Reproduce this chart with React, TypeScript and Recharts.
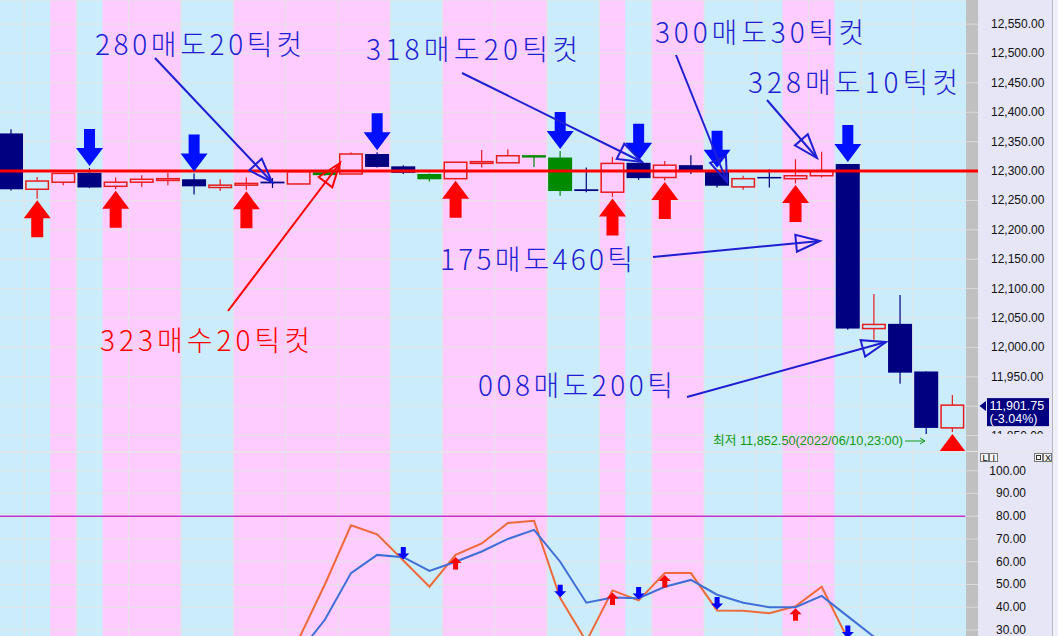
import React from 'react'
import { ComposedChart, Bar, Line, XAxis, YAxis, CartesianGrid, ReferenceArea, ReferenceLine } from 'recharts'

// 봉 데이터 (시가/고가/저가/종가)
const opens = [12364, 12269, 12281, 12297, 12274, 12281, 12284, 12286, 12272, 12276, 12282, 12278, 12298, 12295, 12329, 12308, 12295, 12287, 12313, 12314, 12327, 12323, 12269, 12264, 12314, 12289, 12310, 12300, 12273, 12290, 12287, 12292, 12312, 12032, 12040, 11959, 11863]
const highs = [12371, 12290, 12296, 12305, 12289, 12293, 12297, 12296, 12286, 12289, 12288, 12299, 12300, 12332, 12332, 12310, 12296, 12315, 12336, 12337, 12327, 12334, 12306, 12324, 12314, 12317, 12327, 12302, 12292, 12303, 12320, 12333, 12312, 12091, 12089, 11959, 11919]
const lows = [12267, 12253, 12276, 12271, 12269, 12273, 12276, 12260, 12266, 12268, 12271, 12277, 12292, 12295, 12306, 12295, 12282, 12286, 12306, 12314, 12307, 12258, 12264, 12256, 12285, 12284, 12295, 12272, 12268, 12272, 12279, 12289, 12030, 12013, 11938, 11852.5, 11856]
const closes = [12269, 12283, 12296, 12272, 12281, 12286, 12287, 12274, 12276, 12279, 12279, 12299, 12293, 12329, 12307, 12297, 12286, 12315, 12316, 12326, 12323, 12266, 12266, 12313, 12288, 12310, 12300, 12275, 12287, 12288, 12292, 12300, 12032, 12039, 11957, 11863, 11901.75]
// R 양봉, N 음봉, G 녹색봉
const kinds = ['N', 'R', 'R', 'N', 'R', 'R', 'R', 'N', 'R', 'R', 'N', 'R', 'G', 'R', 'N', 'N', 'G', 'R', 'R', 'R', 'G', 'G', 'N', 'R', 'N', 'R', 'N', 'N', 'R', 'N', 'R', 'R', 'N', 'R', 'N', 'N', 'R']
// 배경 색 (B 하늘색, P 분홍색)
const bands = ['B', 'B', 'P', 'B', 'P', 'P', 'P', 'B', 'B', 'P', 'P', 'P', 'P', 'P', 'P', 'B', 'B', 'P', 'P', 'P', 'P', 'B', 'B', 'P', 'B', 'P', 'P', 'B', 'B', 'B', 'P', 'P', 'B', 'B', 'B', 'B', 'B']
const sellSignals = [3, 7, 14, 21, 24, 27, 32]
const buySignals = [1, 4, 9, 17, 23, 25, 30]
const lowMarks = [36]
const lineLevel = 12300
const lastPrice = 11901.75
const lastChange = '(-3.04%)'

// 보조지표
const oscFast = [null, null, null, null, null, null, null, null, null, null, null, 26, 50, 76, 72, 60.5, 49, 63, 68, 77, 78, 44, 25, 47.4, 43, 55, 55, 38.6, 38.5, 37.4, 40.4, 49, 26, null, null, null, null]
const oscSlow = [null, null, null, null, null, null, null, null, null, null, null, 20, 34.5, 55, 63, 62, 56, 60, 64.5, 70, 74, 60, 42, 44.3, 44, 49, 52, 45.5, 42, 40, 40, 45, 36, 27, null, null, null]
const oscSellSignals = [15, 21, 24, 27, 32]
const oscBuySignals = [17, 23, 25, 30]
const oscLevel = 80

const priceTicks = [11850, 11900, 11950, 12000, 12050, 12100, 12150, 12200, 12250, 12300, 12350, 12400, 12450, 12500, 12550]
const oscTicks = [0, 10, 20, 30, 40, 50, 60, 70, 80, 90, 100]

const PINK = '#ffccff'
const SKY = '#cbecfb'
const GRID = '#e4e4e4'
const NAVY = '#000080'
const RED = '#e81c1c'
const BLUE_NOTE = '#1e1ed2'
const AXIS_BG = '#e6e6f7'

const rows = opens.map((open, i) => ({
	idx: i,
	open,
	high: highs[i],
	low: lows[i],
	close: closes[i],
	kind: kinds[i],
	sell: sellSignals.includes(i) ? highs[i] : null,
	buy: buySignals.includes(i) ? lows[i] : null,
	lowMark: lowMarks.includes(i) ? lows[i] : null,
	fast: oscFast[i],
	slow: oscSlow[i],
	oscSell: oscSellSignals.includes(i) ? oscFast[i] : null,
	oscBuy: oscBuySignals.includes(i) ? oscFast[i] : null,
}))

// 같은 색이 이어지는 구간
const bandRuns: { from: number; to: number; color: string }[] = []
bands.forEach((b, i) => {
	const last = bandRuns[bandRuns.length - 1]
	const color = b === 'P' ? PINK : SKY
	if (last && last.color === color) last.to = i
	else bandRuns.push({ from: i, to: i, color })
})
const gridCols = rows.filter((r) => r.idx % 2 === 1).map((r) => r.idx)

const fmt = (v: number) => v.toLocaleString('en-US', { minimumFractionDigits: 2, maximumFractionDigits: 2 })

const Candle = (props: any) => {
	const { x, y, width, height, payload } = props
	if (x == null || y == null) return <g />
	const { open, close, high, low, kind } = payload
	const color = kind === 'R' ? RED : kind === 'G' ? '#008a00' : NAVY
	const per = height / Math.max(high - low, 0.0001)
	const yOf = (v: number) => y + (high - v) * per
	const top = yOf(Math.max(open, close))
	const bot = Math.max(yOf(Math.min(open, close)), top + 1.5)
	const cx = x + width / 2
	if (kind === 'R') {
		return (
			<g>
				<line x1={cx} x2={cx} y1={y} y2={top} stroke={color} strokeWidth={1.2} />
				<line x1={cx} x2={cx} y1={bot} y2={y + height} stroke={color} strokeWidth={1.2} />
				<rect x={x + 0.75} y={top} width={width - 1.5} height={bot - top} fill='none' stroke={color} strokeWidth={1.5} />
			</g>
		)
	}
	return (
		<g>
			<line x1={cx} x2={cx} y1={y} y2={y + height} stroke={color} strokeWidth={1.2} />
			<rect x={x} y={top} width={width} height={bot - top} fill={color} />
		</g>
	)
}

const poly = (pts: number[][]) => pts.map((q) => q.join(',')).join(' ')

const BigDown = (p: any) => {
	if (p.value == null || p.cy == null) return <g key={p.key} />
	const { cx } = p
	const t = p.cy - 2
	return <polygon key={p.key} points={poly([[cx, t], [cx - 13.5, t - 18], [cx - 5.5, t - 18], [cx - 5.5, t - 37], [cx + 5.5, t - 37], [cx + 5.5, t - 18], [cx + 13.5, t - 18]])} fill='#0010ff' />
}

const BigUp = (p: any) => {
	if (p.value == null || p.cy == null) return <g key={p.key} />
	const { cx } = p
	const t = p.cy + 1.5
	return <polygon key={p.key} points={poly([[cx, t], [cx + 13.5, t + 18], [cx + 6, t + 18], [cx + 6, t + 37], [cx - 6, t + 37], [cx - 6, t + 18], [cx - 13.5, t + 18]])} fill='#ff0000' />
}

const LowTriangle = (p: any) => {
	if (p.value == null || p.cy == null) return <g key={p.key} />
	const { cx } = p
	const t = p.cy + 2
	return <polygon key={p.key} points={poly([[cx, t], [cx + 13.5, t + 18], [cx - 13.5, t + 18]])} fill='#ff0000' />
}

const SmallDown = (p: any) => {
	if (p.value == null || p.cy == null) return <g key={p.key} />
	const { cx } = p
	const t = p.cy - 1
	return <polygon key={p.key} points={poly([[cx, t], [cx - 6, t - 6], [cx - 2.5, t - 6], [cx - 2.5, t - 12.5], [cx + 2.5, t - 12.5], [cx + 2.5, t - 6], [cx + 6, t - 6]])} fill='#0000ff' />
}

const SmallUp = (p: any) => {
	if (p.value == null || p.cy == null) return <g key={p.key} />
	const { cx } = p
	const t = p.cy + 2
	return <polygon key={p.key} points={poly([[cx, t], [cx + 6, t + 6], [cx + 2.5, t + 6], [cx + 2.5, t + 12.5], [cx - 2.5, t + 12.5], [cx - 2.5, t + 6], [cx - 6, t + 6]])} fill='#ff0000' />
}

const PriceTick = (p: any) => (
	<text x={p.x} y={p.y} dy={4} fontSize={12} fill='#111' fontFamily="'Liberation Sans', sans-serif">
		{fmt(p.payload.value)}
	</text>
)

const OscTick = (p: any) => (
	<text x={p.x + 35} y={p.y} dy={4} fontSize={12} fill='#111' textAnchor='end' fontFamily="'Liberation Sans', sans-serif">
		{fmt(p.payload.value)}
	</text>
)

const PriceTag = (props: any) => {
	const vb = props.viewBox || {}
	const x = (vb.x || 0) + (vb.width || 0)
	const y = vb.y || 0
	return (
		<g>
			<polygon points={`${x + 14},${y + 1} ${x + 20.5},${y - 4} ${x + 20.5},${y + 6}`} fill={NAVY} />
			<rect x={x + 21.5} y={y - 7} width={62} height={28} fill={NAVY} />
			<text x={x + 24} y={y + 5} fontSize={12.5} fill='#fff' fontFamily="'Liberation Sans', sans-serif">
				{fmt(lastPrice)}
			</text>
			<text x={x + 24} y={y + 18} fontSize={12.5} fill='#fff' fontFamily="'Liberation Sans', sans-serif">
				{lastChange}
			</text>
		</g>
	)
}

// 기준선: 그림 영역 왼쪽 끝부터 회색 눈금 띠까지 이어짐 (오른쪽 축이라 끝점 순서가 뒤바뀜)
const LevelLine = (p: any) => {
	const left = Math.min(p.x1, p.x2)
	const right = Math.max(p.x1, p.x2)
	return <line x1={left - 2} y1={p.y1} x2={right + 12.5} y2={p.y2} stroke='#ff0000' strokeWidth={3} />
}

// 주석 화살표 (속이 빈 삼각형 머리)
const NoteArrow = ({ x1, y1, x2, y2, color }: { x1: number; y1: number; x2: number; y2: number; color: string }) => {
	const len = Math.hypot(x2 - x1, y2 - y1)
	const ux = (x1 - x2) / len
	const uy = (y1 - y2) / len
	const bx = x2 + ux * 24
	const by = y2 + uy * 24
	const px = -uy * 8.5
	const py = ux * 8.5
	return (
		<g>
			<line x1={x1} y1={y1} x2={x2} y2={y2} stroke={color} strokeWidth={2} />
			<polygon points={`${x2},${y2} ${bx + px},${by + py} ${bx - px},${by - py}`} fill='none' stroke={color} strokeWidth={2} />
		</g>
	)
}

const notes = [
	{ text: '280매도20틱컷', x: 95, y: 55, w: 207, color: BLUE_NOTE, arrow: [155, 58, 272, 182] },
	{ text: '318매도20틱컷', x: 366, y: 60, w: 212, color: BLUE_NOTE, arrow: [462, 73, 642, 162] },
	{ text: '300매도30틱컷', x: 655, y: 43, w: 209, color: BLUE_NOTE, arrow: [676, 55, 727, 182] },
	{ text: '328매도10틱컷', x: 748, y: 93, w: 210, color: BLUE_NOTE, arrow: [767, 100, 817, 158] },
	{ text: '175매도460틱', x: 440, y: 270, w: 193, color: BLUE_NOTE, arrow: [653, 257, 820, 241] },
	{ text: '323매수20틱컷', x: 100, y: 351, w: 210, color: '#ff0000', arrow: [228, 311, 340, 163] },
	{ text: '008매도200틱', x: 478, y: 396, w: 195, color: BLUE_NOTE, arrow: [687, 397, 886, 342] },
]

const priceDomain = [11822, 12591]
const oscDomain = [-0.75, 108.2]

export default function App() {
	return (
		<div style={{ position: 'absolute', left: 0, top: 0, width: 1058, height: 636, overflow: 'hidden', background: SKY }}>
			<div style={{ position: 'absolute', left: 978, top: 0, width: 74, height: 636, background: AXIS_BG }} />
			<div style={{ position: 'absolute', left: 1052, top: 0, width: 1, height: 636, background: '#b8b8c8' }} />
			<div style={{ position: 'absolute', left: 1053, top: 0, width: 5, height: 636, background: '#f0f0f8' }} />
			<div style={{ position: 'absolute', left: 966, top: 0, width: 12, height: 636, background: '#c0c0c0' }} />

			{/* 가격 차트: 배경, 격자, 봉 */}
			<div style={{ position: 'absolute', left: -2, top: 0 }}>
				<ComposedChart width={1060} height={452} data={rows} margin={{ top: 0, right: 0, bottom: 0, left: 0 }} barCategoryGap={0}>
					<XAxis dataKey='idx' scale='band' hide />
					<YAxis
						orientation='right'
						width={92.5}
						domain={priceDomain}
						allowDataOverflow
						ticks={priceTicks}
						interval={0}
						axisLine={false}
						tickSize={12.5}
						tickMargin={13}
						tickLine={{ stroke: '#dadada' }}
						tick={PriceTick}
					/>
					{bandRuns.map((r) => (
						<ReferenceArea key={`b${r.from}`} x1={r.from} x2={r.to} y1={priceDomain[0]} y2={priceDomain[1]} fill={r.color} fillOpacity={1} stroke='none' ifOverflow='hidden' zIndex={-300} />
					))}
					<CartesianGrid vertical={false} stroke={GRID} strokeWidth={1} zIndex={-250} />
					{gridCols.map((k) => (
						<ReferenceLine key={`v${k}`} x={k} position='start' stroke={GRID} strokeWidth={1} zIndex={-250} />
					))}
					<Bar dataKey={(d: any) => [d.low, d.high]} barSize={24} shape={Candle} isAnimationActive={false} />
				</ComposedChart>
			</div>

			{/* 가격 차트 위층: 기준선, 신호 화살표 */}
			<div style={{ position: 'absolute', left: -2, top: 0 }}>
				<ComposedChart width={1060} height={452} data={rows} margin={{ top: 0, right: 0, bottom: 0, left: 0 }}>
					<XAxis dataKey='idx' scale='band' hide />
					<YAxis orientation='right' width={92.5} domain={priceDomain} allowDataOverflow ticks={priceTicks} axisLine={false} tickLine={false} tick={false} />
					<ReferenceLine y={lineLevel} shape={LevelLine} />
					<ReferenceLine y={lastPrice} stroke='none' strokeWidth={0} label={<PriceTag />} />
					<Line dataKey='sell' stroke='none' dot={BigDown} activeDot={false} isAnimationActive={false} />
					<Line dataKey='buy' stroke='none' dot={BigUp} activeDot={false} isAnimationActive={false} />
					<Line dataKey='lowMark' stroke='none' dot={LowTriangle} activeDot={false} isAnimationActive={false} />
				</ComposedChart>
			</div>

			{/* 가격 눈금 하단이 패널 경계에서 잘림 */}
			<div style={{ position: 'absolute', left: 978, top: 434, width: 74, height: 17, background: AXIS_BG }} />
			<div style={{ position: 'absolute', left: 0, top: 451, width: 1052, height: 1, background: '#e6e6e6' }} />

			{/* 보조지표 */}
			<div style={{ position: 'absolute', left: -2, top: 452 }}>
				<ComposedChart width={1060} height={248} data={rows} margin={{ top: 0, right: 0, bottom: 0, left: 0 }}>
					<XAxis dataKey='idx' scale='band' hide />
					<YAxis
						orientation='right'
						width={92.5}
						domain={oscDomain}
						allowDataOverflow
						ticks={oscTicks}
						interval={0}
						axisLine={false}
						tickSize={12.5}
						tickMargin={13}
						tickLine={{ stroke: '#dadada' }}
						tick={OscTick}
					/>
					{bandRuns.map((r) => (
						<ReferenceArea key={`c${r.from}`} x1={r.from} x2={r.to} y1={oscDomain[0]} y2={oscDomain[1]} fill={r.color} fillOpacity={1} stroke='none' ifOverflow='hidden' zIndex={-300} />
					))}
					<CartesianGrid vertical={false} stroke={GRID} strokeWidth={1} zIndex={-250} />
					{gridCols.map((k) => (
						<ReferenceLine key={`w${k}`} x={k} position='start' stroke={GRID} strokeWidth={1} zIndex={-250} />
					))}
					<ReferenceLine y={oscLevel} stroke='#c832c8' strokeWidth={1.5} />
					<Line dataKey='fast' stroke='#ee6a3a' strokeWidth={2} dot={false} activeDot={false} isAnimationActive={false} />
					<Line dataKey='slow' stroke='#3f6fd6' strokeWidth={2} dot={false} activeDot={false} isAnimationActive={false} />
					<Line dataKey='oscSell' stroke='none' dot={SmallDown} activeDot={false} isAnimationActive={false} />
					<Line dataKey='oscBuy' stroke='none' dot={SmallUp} activeDot={false} isAnimationActive={false} />
				</ComposedChart>
			</div>

			<svg width={1058} height={636} style={{ position: 'absolute', left: 0, top: 0, pointerEvents: 'none' }}>
				{notes.map((n) => (
					<g key={n.text}>
						<NoteArrow x1={n.arrow[0]} y1={n.arrow[1]} x2={n.arrow[2]} y2={n.arrow[3]} color={n.color} />
						<text x={n.x} y={n.y} fontSize={28} fontWeight={300} fill={n.color} fontFamily="'Noto Sans CJK KR', sans-serif" textLength={n.w} lengthAdjust='spacing'>
							{n.text}
						</text>
					</g>
				))}
				<text x={713} y={445} fontSize={12} fill='#119911' fontFamily="'Liberation Sans', 'Noto Sans CJK KR', sans-serif" textLength={190} lengthAdjust='spacingAndGlyphs'>
					{`최저 ${fmt(lows[35])}(2022/06/10,23:00)`}
				</text>
				<line x1={905} y1={441} x2={925} y2={441} stroke='#119911' strokeWidth={1} />
				<polyline points='920,438 925,441 920,444' fill='none' stroke='#119911' strokeWidth={1} />
				<g fontFamily="'Liberation Sans', sans-serif" fontSize={9} fill='#000'>
					<rect x={980.5} y={453.5} width={8} height={8} fill='#f4f4f4' stroke='#777' />
					<text x={982.5} y={461}>L</text>
					<rect x={989.5} y={453.5} width={8} height={8} fill='#f4f4f4' stroke='#777' />
					<text x={992.5} y={461}>I</text>
					<rect x={1034.5} y={453.5} width={8} height={8} fill='#f4f4f4' stroke='#777' />
					<rect x={1036.5} y={455.5} width={4} height={4} fill='none' stroke='#333' />
					<rect x={1043.5} y={453.5} width={8} height={8} fill='#f4f4f4' stroke='#777' />
					<text x={1045} y={461}>X</text>
				</g>
			</svg>
		</div>
	)
}
